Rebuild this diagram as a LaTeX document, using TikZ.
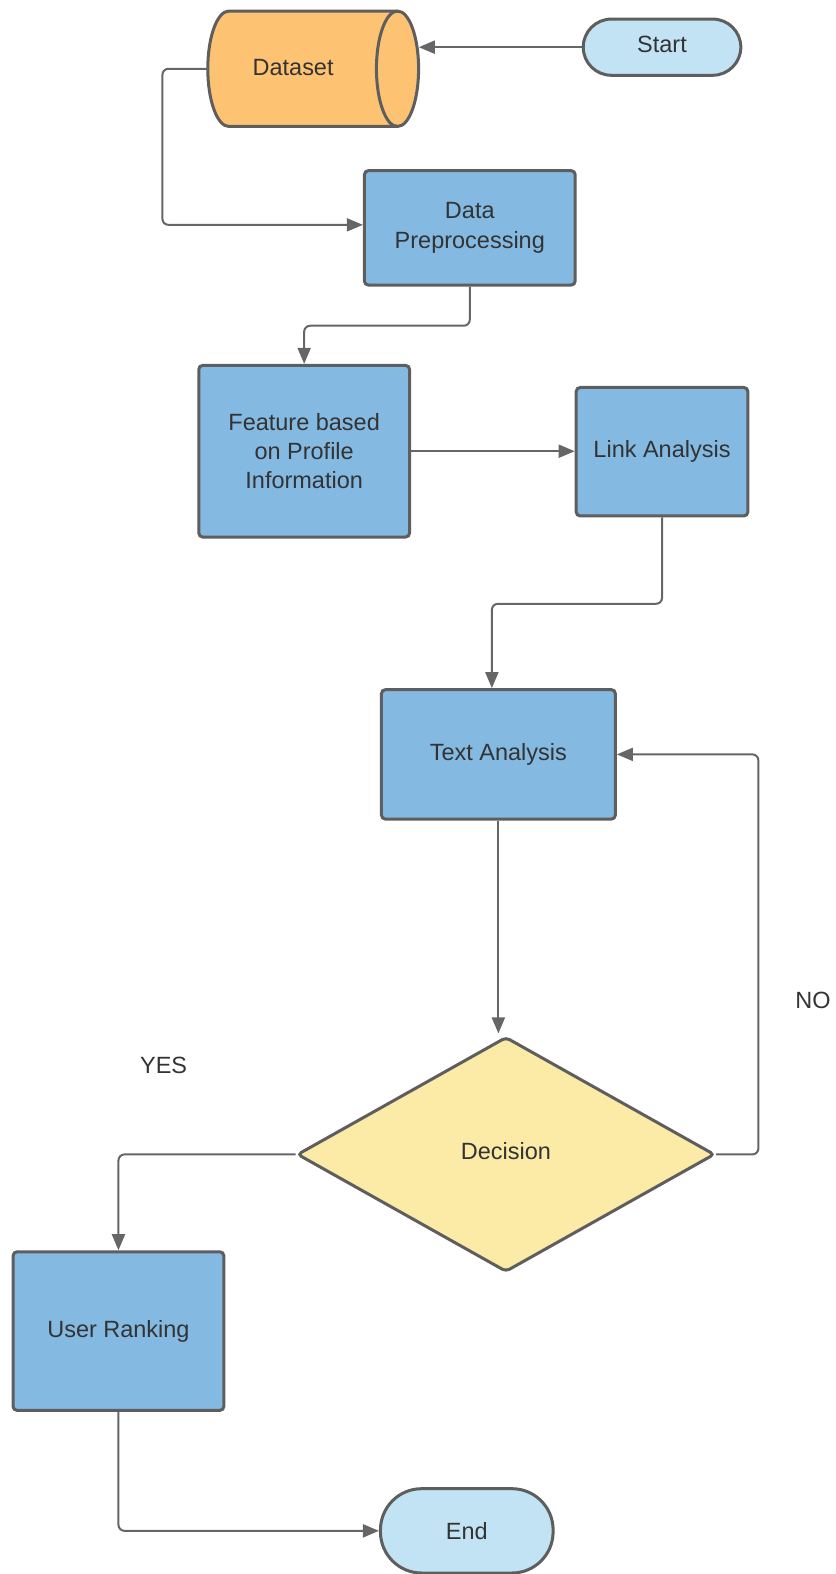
\documentclass[tikz,border=0pt]{standalone}
\usepackage{fontspec}
\setmainfont{Liberation Sans}
\usetikzlibrary{arrows.meta,shapes.geometric}
\definecolor{edge}{HTML}{5E5E5E}
\definecolor{wire}{HTML}{666666}
\definecolor{boxblue}{HTML}{84B9E2}
\definecolor{termblue}{HTML}{C2E3F4}
\definecolor{dbfill}{HTML}{FDC372}
\definecolor{decfill}{HTML}{FCEAA7}
\definecolor{ink}{HTML}{333333}

\begin{document}
\begin{tikzpicture}[x=1pt,y=-1pt,
  font=\fontsize{23.4}{29}\selectfont, text=ink,
  proc/.style={draw=edge, line width=3pt, fill=boxblue, rounded corners=4pt,
               align=center, inner sep=0pt},
  term/.style={draw=edge, line width=3pt, fill=termblue, align=center, inner sep=0pt},
  decbox/.style={diamond, draw=edge, line width=3pt, fill=decfill, rounded corners=4pt,
                 inner sep=0pt},
  cyl/.style={draw=edge, line width=3pt, fill=dbfill},
  flow/.style={draw=wire, line width=2pt, rounded corners=6pt,
               -{Triangle[length=16pt,width=13pt]}},
  tag/.style={inner sep=0pt},
]
\useasboundingbox (0,0) rectangle (832,1568);

% Dataset cylinder (lying on its side, cap to the right)
\draw[cyl] (228,11) -- (396,11)
  arc[start angle=-90, end angle=90, x radius=21, y radius=57.5]
  -- (228,126)
  arc[start angle=90, end angle=270, x radius=21, y radius=57.5] -- cycle;
\draw[draw=edge, line width=3pt] (396,11)
  arc[start angle=-90, end angle=-270, x radius=21, y radius=57.5];
\node[minimum width=210pt, minimum height=115pt, inner sep=0pt] (ds) at (312,68.5) {};
\node[tag] (dslabel) at (292,67) {Dataset};

% Terminals
\node[term, minimum width=157pt, minimum height=56pt, rounded corners=28pt]
  (start) at (659.5,47) {};
\node[tag] (startlabel) at (659.5,44) {Start};
\node[term, minimum width=172pt, minimum height=84pt, rounded corners=41pt]
  (end) at (465,1525) {End};

% Process boxes
\node[proc, minimum width=210pt, minimum height=114pt] (prep) at (468,227) {Data\\Preprocessing};
\node[proc, minimum width=210pt, minimum height=171pt] (feat) at (303,449.5)
  {Feature based\\on Profile\\Information};
\node[proc, minimum width=171pt, minimum height=128pt] (link) at (659.5,450) {Link Analysis};
\node[proc, minimum width=233pt, minimum height=129pt] (txt) at (496.5,751.5) {Text Analysis};
\node[proc, minimum width=210pt, minimum height=158pt] (rank) at (118,1326) {User Ranking};

% Decision
\node[decbox, minimum width=416pt, minimum height=234pt] (dec) at (504,1150) {};
\node[tag] (declabel) at (504,1147) {Decision};

% Branch labels
\node[tag] (yes) at (163,1061) {YES};
\node[tag] (no) at (810,997) {NO};

% Connectors
\draw[flow] (start.west) -- (start.west -| ds.east);
\draw[flow] (ds.west) -- ++(-45,0) |- ([yshift=3pt]prep.west);
\draw[flow] (prep.south) -- ++(0,39) -| (feat.north);
\draw[flow] (feat.east) -- (link.west |- feat.east);
\draw[flow] (link.south) -- ++(0,86) -| ([xshift=-6.5pt]txt.north);
\draw[flow] (txt.south) -- ([yshift=2pt]txt.south |- dec.north);
\draw[flow] (dec.east) -- ++(42,0) |- (txt.east);
\draw[flow] (dec.west) -| (rank.north);
\draw[flow] (rank.south) |- (end.west);
\end{tikzpicture}
\end{document}
